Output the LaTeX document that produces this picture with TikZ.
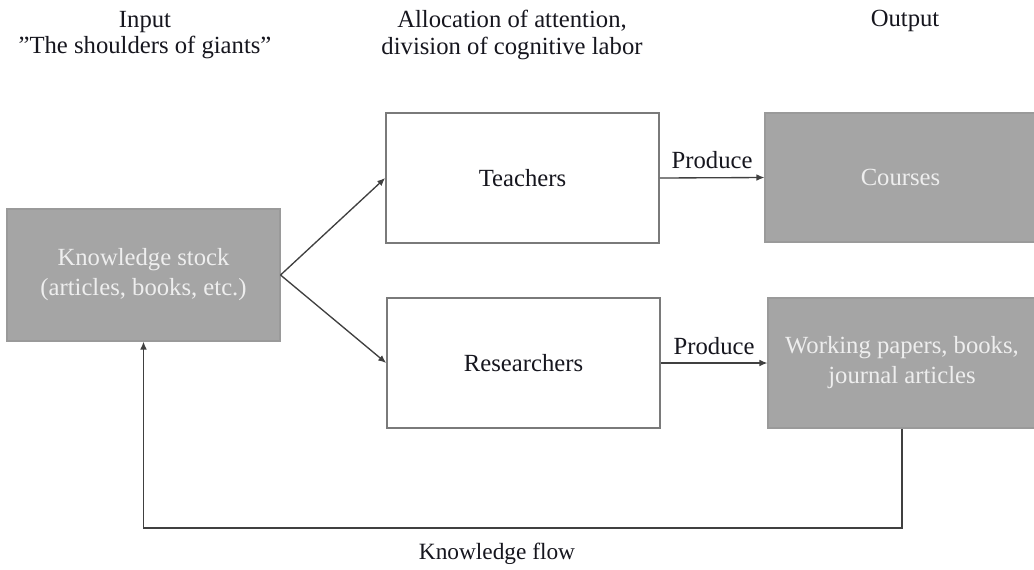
\documentclass[tikz,border=0pt]{standalone}
\usepackage{fontspec}
\setmainfont{Liberation Serif}
\usetikzlibrary{arrows.meta}
\definecolor{boxgray}{HTML}{A5A5A5}
\definecolor{boxedge}{HTML}{9A9A9A}
\definecolor{linegray}{HTML}{404040}
\definecolor{edgegray}{HTML}{7A7A7A}
\definecolor{lighttext}{HTML}{EEEEEE}
\definecolor{darktext}{HTML}{16161E}
\begin{document}
\begin{tikzpicture}[x=0.75pt,y=-0.75pt,
  txt/.style={font=\fontsize{18.5}{22.5}\selectfont},
  graybox/.style={txt, fill=boxgray, draw=boxedge, line width=0.8pt, text=lighttext, align=center, inner sep=0pt},
  whitebox/.style={txt, fill=white, draw=edgegray, line width=1.2pt, text=darktext, align=center, inner sep=0pt},
  conn/.style={draw=linegray, line width=1pt, -{Latex[length=6pt,width=5pt]}},
  lbl/.style={txt, text=darktext, align=center, inner sep=0pt},
  head/.style={font=\fontsize{18.5}{20}\selectfont, text=darktext, align=center, inner sep=0pt}]
\useasboundingbox[fill=white] (0,0) rectangle (1034,569);

% headers
\node[head] (hin) at (145,35) {Input\\”The shoulders of giants”};
\node[head] (hmid) at (512,35) {Allocation of attention,\\division of cognitive labor};
\node[head] (hout) at (905,21) {Output};

% boxes
\node[graybox, minimum width=204.75pt, minimum height=99pt] (ks) at (143.5,275) {Knowledge stock\\(articles, books, etc.)};
\node[whitebox, minimum width=204.75pt, minimum height=97.5pt] (teach) at (522.5,178) {Teachers};
\node[whitebox, minimum width=204.75pt, minimum height=97.5pt] (res) at (523.5,363) {Researchers};
\node[graybox, minimum width=203.25pt, minimum height=96.75pt] (courses) at (900.5,177.5) {Courses};
\node[graybox, minimum width=201pt, minimum height=97.5pt] (wp) at (902,363) {Working papers, books,\\journal articles};

% connectors
\draw[conn] (ks.east) -- (teach.west);
\draw[conn] (ks.east) -- (res.west);
\draw[conn] (teach.east) -- node[lbl, above=6pt] (p1) {Produce} (courses.west);
\draw[conn] (res.east) -- node[lbl, above=6pt] (p2) {Produce} (wp.west);
\coordinate (fb) at (902,528);
\draw[conn] (wp.south) -- (fb) -| (ks.south);

\node[head, font=\fontsize{17.5}{21}\selectfont] (kf) at (497,554) {Knowledge flow};
\end{tikzpicture}
\end{document}
